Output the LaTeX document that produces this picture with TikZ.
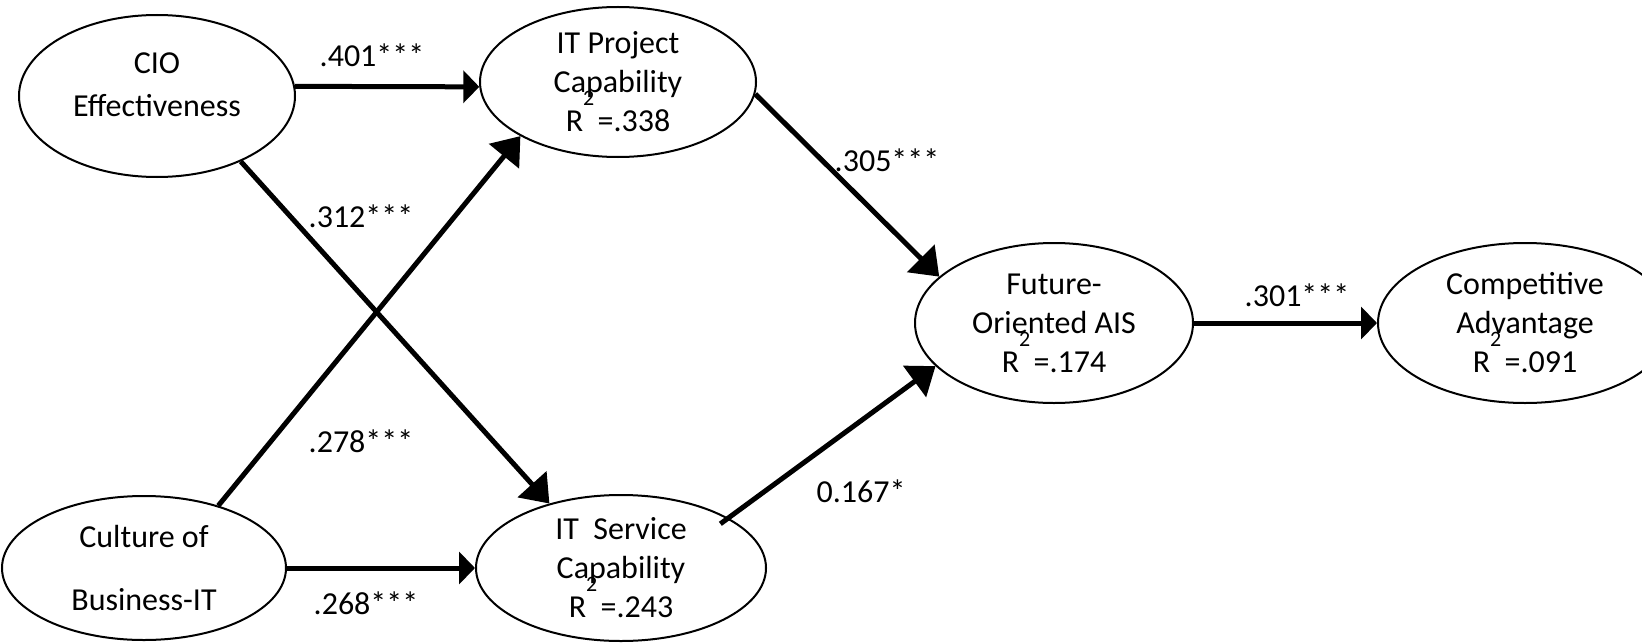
\documentclass[tikz,border=0pt]{standalone}
\usepackage{fontspec}
\setmainfont{Carlito}
\usepackage{tikz}
\usetikzlibrary{shapes.geometric}
\usetikzlibrary{arrows.meta}
\tikzstyle{latent} = [ellipse,draw,line width=1pt,inner sep=0pt,align=center,fill=white,font=\fontsize{16}{19.5}\selectfont]
\tikzstyle{effect} = [line width=2.5pt,-{Triangle[length=13pt,width=19pt]}]
\tikzstyle{effectflat} = [line width=2.5pt,-{Triangle[length=8pt,width=16pt]}]
\tikzstyle{coef} = [anchor=base,inner sep=0pt,font=\fontsize{16}{19.5}\selectfont]
\newcommand{\rsq}[1]{R\rlap{\smash{\raisebox{13pt}{\fontsize{11}{13}\selectfont 2}}}~ =#1}

\begin{document}
\begin{tikzpicture}[x=0.5pt,y=-0.5pt]

    \useasboundingbox (0,0) rectangle (1642,642); % same frame as the figure

    % the six constructs
    \node[latent,minimum width=138pt,minimum height=81pt] (cio) at (157,96)
        {CIO\\[2pt]Effectiveness\rule[-11pt]{0pt}{0pt}};
    \node[latent,minimum width=138pt,minimum height=75pt] (itp) at (618,82)
        {IT Project\\Capability\\\rsq{.338}};
    \node[latent,minimum width=142pt,minimum height=72pt] (cult) at (144,568)
        {Culture of\\[12pt]Business-IT};
    \node[latent,minimum width=145pt,minimum height=73pt] (its) at (621,568)
        {IT~ Service\\Capability\\\rsq{.243}};
    \node[latent,minimum width=139pt,minimum height=80pt] (fut) at (1054,323)
        {Future-\\Oriented AIS\\\rsq{.174}};
    \node[latent,minimum width=147pt,minimum height=80pt] (comp) at (1525,323)
        {Competitive\\Advantage\\\rsq{.091}}; % runs past the right edge

    % paths
    \draw[effectflat] (cio.4) -- (itp.182);
    \draw[effect] (cio.-38) -- (its.138);
    \draw[effect] (cult.40) -- (itp.209);
    \draw[effectflat] (cult.east) -- (its.west);
    \draw[effect] (itp.-5) -- (fut.158);
    \draw[effect,shorten <=-5pt] (its.25) -- (fut.200);
    \draw[effectflat] (fut.east) -- (comp.west);

    % path coefficients
    \node[coef] (c401) at (372,67) {.401***};
    \node[coef] (c312) at (361,227) {.312***};
    \node[coef] (c278) at (361,452) {.278***};
    \node[coef] (c268) at (366,614) {.268***};
    \node[coef] (c305) at (887,171) {.305***};
    \node[coef] (c167) at (861,502) {0.167*};
    \node[coef] (c301) at (1297,306) {.301***};

\end{tikzpicture}
\end{document}
